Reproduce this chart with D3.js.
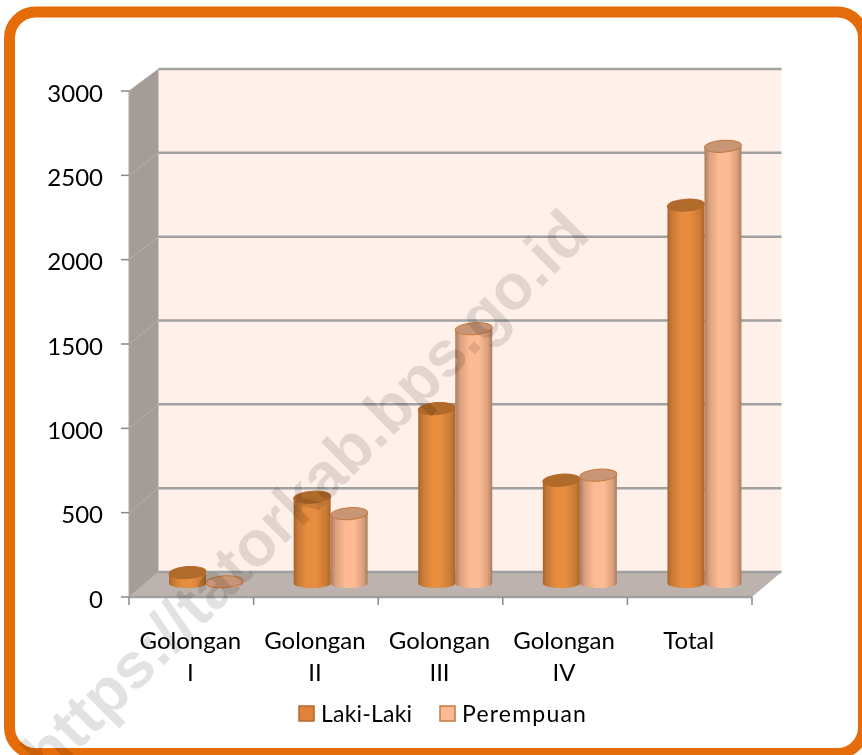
<!DOCTYPE html>
<html>
<head>
<meta charset="utf-8">
<style>
  html, body { margin: 0; padding: 0; background: #fff; }
  svg { display: block; }
  text { font-family: Lato, "Open Sans", sans-serif; fill: #000; }
</style>
<script src="https://cdn.jsdelivr.net/npm/d3@7"></script>
</head>
<body>
<svg width="862" height="755"></svg>
<script>
const categories = [['Golongan', 'I'], ['Golongan', 'II'], ['Golongan', 'III'], ['Golongan', 'IV'], ['Total']];
const lakiLaki = [65, 513, 1040, 614, 2250];
const perempuan = [10, 415, 1515, 644, 2600];
const seriesNames = ['Laki-Laki', 'Perempuan'];
const yTicks = [0, 500, 1000, 1500, 2000, 2500, 3000];

const svg = d3.select('svg');
const defs = svg.append('defs');

// depth of the fake 3d box
const dx = 29.5;

const x = d3.scaleBand().domain(d3.range(categories.length)).range([129, 752]);
const xSeries = d3.scaleBand().domain([0, 1]).range([x.bandwidth() / 2 - 37, x.bandwidth() / 2 + 37]);
const y = d3.scaleLinear().domain([0, 3000]).range([597, 91]);
const yBack = d3.scaleLinear().domain([0, 3000]).range([572, 69]);

// gradients for the cylinders
function cylGradient(id, stops) {
  const g = defs.append('linearGradient').attr('id', id);
  stops.forEach(s => g.append('stop').attr('offset', s[0]).attr('stop-color', s[1]));
}
cylGradient('cylA', [[0, '#a9652a'], [0.12, '#c87a35'], [0.35, '#e68c3e'], [0.6, '#e88e40'], [0.88, '#c97a35'], [1, '#a9652a']]);
cylGradient('cylB', [[0, '#ab7c60'], [0.14, '#dca17e'], [0.4, '#fdbb93'], [0.65, '#fdbb93'], [0.88, '#dba07c'], [1, '#ab7c60']]);

defs.append('filter').attr('id', 'soft').append('feGaussianBlur').attr('stdDeviation', 0.7);
defs.append('filter').attr('id', 'softText').append('feGaussianBlur').attr('stdDeviation', 0.35);

// orange frame
svg.append('rect')
  .attr('x', 9.5).attr('y', 12).attr('width', 854).attr('height', 741.5)
  .attr('rx', 26).attr('fill', '#fff')
  .attr('stroke', '#e46c0a').attr('stroke-width', 11);

const chart = svg.append('g').attr('filter', 'url(#soft)');

// back wall
chart.append('rect')
  .attr('x', x.range()[0] + dx).attr('y', yBack(3000))
  .attr('width', x.range()[1] - x.range()[0]).attr('height', yBack(0) - yBack(3000))
  .attr('fill', '#fff0e9');

// side wall
chart.append('path')
  .attr('d', d3.line()([[129, y(3000)], [129 + dx, yBack(3000)], [129 + dx, yBack(0)], [129, y(0)]]))
  .attr('fill', '#a49c97');

// floor
chart.append('path')
  .attr('d', d3.line()([[129, y(0)], [129 + dx, yBack(0)], [752 + dx, yBack(0)], [752, y(0)]]))
  .attr('fill', '#bdb3ae');

// gridlines: faint on the side wall, stronger on the back wall
yTicks.forEach(t => {
  chart.append('line')
    .attr('x1', 129).attr('y1', y(t)).attr('x2', 129 + dx).attr('y2', yBack(t))
    .attr('stroke', '#b4aeaa').attr('stroke-width', 1);
  chart.append('line')
    .attr('x1', 129 + dx).attr('y1', yBack(t)).attr('x2', 752 + dx).attr('y2', yBack(t))
    .attr('stroke', '#a0a0a0').attr('stroke-width', 2.5);
});

// axes
chart.append('line').attr('x1', 129).attr('x2', 129).attr('y1', y(3000)).attr('y2', y(0)).attr('stroke', '#a9a9a9').attr('stroke-width', 1);
chart.append('line').attr('x1', 129).attr('x2', 752).attr('y1', y(0)).attr('y2', y(0)).attr('stroke', '#a0a0a0').attr('stroke-width', 2.5);
yTicks.forEach(t => {
  chart.append('line').attr('x1', 121).attr('x2', 129).attr('y1', y(t)).attr('y2', y(t)).attr('stroke', '#8a8a8a').attr('stroke-width', 1.5);
});
d3.range(categories.length + 1).forEach(i => {
  const px = i < categories.length ? x(i) : x.range()[1];
  chart.append('line').attr('x1', px).attr('x2', px).attr('y1', y(0)).attr('y2', y(0) + 8).attr('stroke', '#8a8a8a').attr('stroke-width', 1.5);
});

// cylinders, sitting in the middle of the depth
const yBase = (y(0) + yBack(0)) / 2 - 1;
const yMid = v => yBase + ((y(v) - y(0)) + (yBack(v) - yBack(0))) / 2;
const ry = 6;

function cylinder(i, s, v) {
  const w = xSeries.bandwidth();
  const cx = x(i) + xSeries(s) + w / 2 + dx / 2;
  const rx = w / 2;
  const fill = s === 0 ? 'url(#cylA)' : 'url(#cylB)';
  const top = s === 0 ? '#b06a2c' : '#c99577';
  const edge = s === 0 ? '#b5692a' : '#c47a3f';
  const g = chart.append('g');
  g.append('path')
    .attr('d', `M${cx - rx},${yMid(v)} L${cx - rx},${yBase} A${rx},${ry - 1.5} 0 0 0 ${cx + rx},${yBase} L${cx + rx},${yMid(v)} Z`)
    .attr('fill', fill);
  g.append('ellipse')
    .attr('cx', cx).attr('cy', yMid(v)).attr('rx', rx).attr('ry', ry)
    .attr('transform', `rotate(-4 ${cx} ${yMid(v)})`)
    .attr('fill', top).attr('stroke', edge).attr('stroke-width', 1);
}
categories.forEach((c, i) => {
  cylinder(i, 0, lakiLaki[i]);
  cylinder(i, 1, perempuan[i]);
});

const labels = svg.append('g').attr('filter', 'url(#softText)');

// y tick labels
labels.selectAll('.ylab').data(yTicks).join('text')
  .attr('class', 'ylab')
  .attr('x', 103).attr('y', d => y(d) + 10.5)
  .attr('text-anchor', 'end').attr('font-size', 24).text(d => d);

// category labels
categories.forEach((c, i) => {
  c.forEach((line, k) => {
    labels.append('text')
      .attr('x', x(i) + x.bandwidth() / 2 - 1).attr('y', 649 + k * 32)
      .attr('text-anchor', 'middle').attr('font-size', 24).text(line);
  });
});

// legend
const legendX = [299, 440];
const legendFill = ['#e0823d', '#fdb995'];
const legendEdge = ['#b5692a', '#c47a3f'];
seriesNames.forEach((n, i) => {
  labels.append('rect')
    .attr('x', legendX[i]).attr('y', 706).attr('width', 15).attr('height', 15)
    .attr('fill', legendFill[i]).attr('stroke', legendEdge[i]).attr('stroke-width', 1.5);
  labels.append('text')
    .attr('x', legendX[i] + 22).attr('y', 722)
    .attr('font-size', 23).attr('letter-spacing', i === 1 ? 1.2 : 0.2).text(n);
});

// watermark
svg.append('text')
  .attr('transform', 'translate(49,780) rotate(-45)')
  .attr('font-size', 64).attr('font-weight', 700)
  .style('font-family', '"Liberation Sans", Arial, sans-serif')
  .style('fill', '#000').attr('opacity', 0.11)
  .text('https://tatorkab.bps.go.id');
</script>
</body>
</html>
